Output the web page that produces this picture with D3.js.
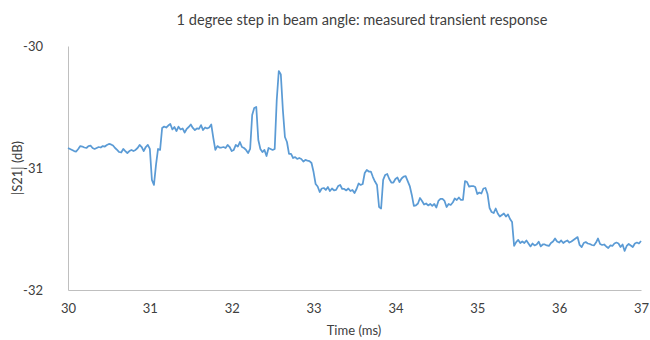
<!DOCTYPE html>
<html>
<head>
<meta charset="utf-8">
<script src="https://cdn.jsdelivr.net/npm/d3@7"></script>
<style>
  body { margin: 0; background: #fff; }
  svg { display: block; font-family: Lato, "Open Sans", sans-serif; }
</style>
</head>
<body>
<svg id="chart" width="650" height="340"></svg>
<script>
// sampled trace: one sample every 0.025 ms starting at 30 ms
const startMs = 30
const stepMs = 0.025
const s21dB = [
  -30.836, -30.844, -30.852, -30.861, -30.865, -30.844, -30.820, -30.824, -30.832, -30.836,
  -30.820, -30.816, -30.836, -30.844, -30.836, -30.828, -30.832, -30.820, -30.824, -30.811,
  -30.803, -30.807, -30.816, -30.836, -30.852, -30.869, -30.873, -30.844, -30.861, -30.877,
  -30.861, -30.852, -30.861, -30.852, -30.836, -30.811, -30.828, -30.861, -30.828, -30.811,
  -30.844, -31.098, -31.139, -30.975, -30.844, -30.852, -30.672, -30.660, -30.668, -30.652,
  -30.639, -30.684, -30.664, -30.697, -30.661, -30.684, -30.676, -30.709, -30.680, -30.664,
  -30.643, -30.672, -30.689, -30.676, -30.680, -30.648, -30.689, -30.668, -30.676, -30.668,
  -30.643, -30.754, -30.852, -30.820, -30.832, -30.832, -30.828, -30.836, -30.811, -30.828,
  -30.861, -30.852, -30.811, -30.824, -30.787, -30.828, -30.836, -30.852, -30.877, -30.844,
  -30.566, -30.508, -30.500, -30.770, -30.844, -30.869, -30.852, -30.902, -30.836, -30.844,
  -30.852, -30.844, -30.443, -30.205, -30.234, -30.525, -30.746, -30.787, -30.885, -30.885,
  -30.918, -30.910, -30.926, -30.918, -30.926, -30.947, -30.934, -30.939, -30.943, -30.959,
  -31.033, -31.131, -31.152, -31.197, -31.168, -31.164, -31.180, -31.156, -31.189, -31.168,
  -31.184, -31.180, -31.148, -31.139, -31.172, -31.172, -31.184, -31.168, -31.189, -31.180,
  -31.205, -31.172, -31.127, -31.139, -31.131, -31.041, -31.016, -31.029, -31.029, -31.074,
  -31.111, -31.139, -31.320, -31.332, -31.098, -31.057, -31.049, -31.090, -31.119, -31.119,
  -31.090, -31.078, -31.115, -31.086, -31.070, -31.066, -31.107, -31.148, -31.221, -31.311,
  -31.307, -31.291, -31.246, -31.270, -31.299, -31.291, -31.307, -31.295, -31.311, -31.295,
  -31.324, -31.270, -31.254, -31.254, -31.270, -31.320, -31.295, -31.303, -31.283, -31.250,
  -31.262, -31.242, -31.262, -31.262, -31.107, -31.115, -31.152, -31.148, -31.148, -31.156,
  -31.213, -31.201, -31.209, -31.168, -31.164, -31.213, -31.328, -31.361, -31.369, -31.332,
  -31.373, -31.398, -31.385, -31.373, -31.398, -31.381, -31.418, -31.443, -31.639, -31.607,
  -31.590, -31.615, -31.602, -31.615, -31.594, -31.619, -31.643, -31.619, -31.635, -31.627,
  -31.604, -31.643, -31.627, -31.627, -31.635, -31.639, -31.615, -31.602, -31.578, -31.602,
  -31.611, -31.594, -31.615, -31.602, -31.594, -31.611, -31.602, -31.590, -31.578, -31.566,
  -31.631, -31.648, -31.615, -31.607, -31.619, -31.623, -31.631, -31.635, -31.611, -31.578,
  -31.623, -31.631, -31.627, -31.643, -31.656, -31.635, -31.639, -31.619, -31.611, -31.619,
  -31.648, -31.627, -31.680, -31.639, -31.623, -31.635, -31.648, -31.619, -31.611, -31.619,
  -31.598
]
const xTicks = [30, 31, 32, 33, 34, 35, 36, 37]
const yTicks = [-32, -31, -30]
const title = "1 degree step in beam angle: measured transient response"
const xTitle = "Time (ms)"
const yTitle = "|S21| (dB)"

const margin = {top: 46, right: 9, bottom: 50, left: 68}
const width = 650, height = 340

const svg = d3.select('#chart')
const data = s21dB.map((v, i) => ({t: startMs + i * stepMs, v: v}))

const x = d3.scaleLinear().domain([30, 37]).range([margin.left, width - margin.right])
const y = d3.scaleLinear().domain([-32, -30]).range([height - margin.bottom, margin.top])

// axes: Excel style, no tick marks, light grey lines, plain hyphen minus
const xAxis = svg.append("g")
  .attr("transform", `translate(0,${height - margin.bottom})`)
  .call(d3.axisBottom(x).tickValues(xTicks).tickSize(0).tickPadding(14).tickFormat(d => String(d)))
xAxis.select(".domain").attr("stroke", "#bfbfbf")

const yAxis = svg.append("g")
  .attr("transform", `translate(${margin.left},0)`)
  .call(d3.axisLeft(y).tickValues(yTicks).tickSize(0).tickPadding(25).tickFormat(d => String(d)))
yAxis.select(".domain").attr("stroke", "#bfbfbf")

svg.selectAll(".tick text")
  .style("font-family", "Lato, 'Open Sans', sans-serif")
  .style("font-size", "13px")
  .attr("fill", "#404040")

const line = d3.line()
  .x(d => x(d.t))
  .y(d => y(d.v))

svg.append("path")
  .datum(data)
  .attr("d", line)
  .attr("fill", "none")
  .attr("stroke", "#5b9bd5")
  .attr("stroke-width", 1.75)
  .attr("stroke-linejoin", "round")

svg.append("text")
  .attr("x", 362)
  .attr("y", 25)
  .attr("text-anchor", "middle")
  .style("font-size", "14.6px")
  .attr("fill", "#404040")
  .text(title)

svg.append("text")
  .attr("x", 354)
  .attr("y", 335)
  .attr("text-anchor", "middle")
  .style("font-size", "13px")
  .attr("fill", "#404040")
  .text(xTitle)

svg.append("text")
  .attr("transform", "translate(22,168) rotate(-90)")
  .attr("text-anchor", "middle")
  .style("font-size", "13px")
  .attr("fill", "#404040")
  .text(yTitle)
</script>
</body>
</html>
